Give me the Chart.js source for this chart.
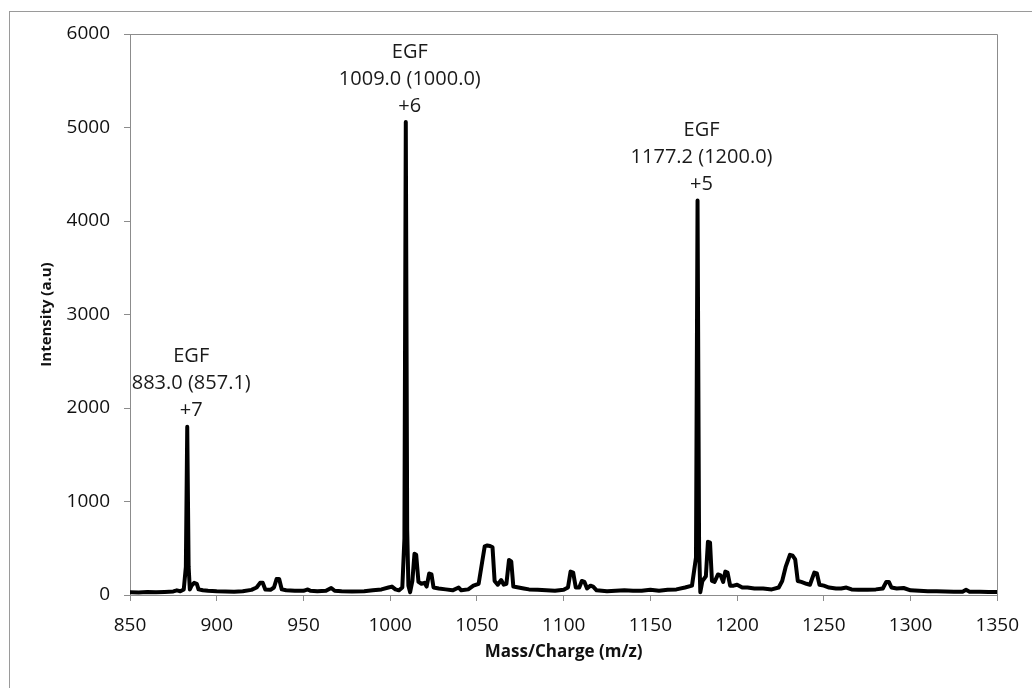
<!DOCTYPE html>
<html>
<head>
<meta charset="utf-8">
<title>EGF mass spectrum</title>
<script src="https://cdn.jsdelivr.net/npm/chart.js@4.4.1/dist/chart.umd.min.js"></script>
<style>
  html, body { margin: 0; padding: 0; background: #fff; overflow: hidden; }
  #wrap { position: relative; width: 1032px; height: 688px; }
</style>
</head>
<body>
<div id="wrap"><canvas id="spectrum" width="1032" height="688"></canvas></div>
<script>
// spectrum trace: m/z and intensity (a.u)
var mz = [
  850, 855, 860, 865, 870, 875, 877, 879, 881, 882.2, 883.0, 883.8, 884.5, 885.5, 887, 888.5, 889.5, 892, 895,
  900, 905, 910, 915, 920, 923, 925, 926.5, 928, 931, 933, 934.5, 936, 937.5, 940, 945, 950, 952.5, 954, 958,
  963, 966, 968, 972, 978, 985, 990, 995, 999, 1001, 1003, 1005, 1007, 1008.2, 1009.0, 1009.8, 1010.5, 1011.5,
  1012.8, 1014.0, 1015.0, 1016.3, 1018, 1019.8, 1021, 1022.5, 1023.8, 1025, 1028, 1032, 1036, 1039.5, 1041,
  1045, 1048, 1051, 1053, 1054.5, 1056, 1057.5, 1059, 1060.2, 1062, 1064, 1065.5, 1067, 1068.5, 1069.8, 1071,
  1074, 1077, 1080, 1085, 1090, 1095, 1100, 1102.5, 1104, 1105.5, 1107, 1109, 1110.5, 1112, 1113.5, 1115.5,
  1117, 1119, 1125, 1130, 1135, 1140, 1145, 1150, 1155, 1160, 1165, 1170, 1174, 1176.3, 1177.2, 1178.1, 1178.8,
  1180, 1182, 1183.2, 1184.4, 1185.5, 1187, 1189, 1190.5, 1192, 1193.2, 1194.5, 1196, 1198, 1200, 1203, 1206,
  1210, 1215, 1220, 1224, 1226, 1228, 1230.5, 1232, 1233.5, 1235, 1237, 1240, 1242, 1244.5, 1246, 1247.5, 1250,
  1253, 1257, 1260, 1263, 1266, 1270, 1275, 1280, 1284, 1286, 1287.5, 1289, 1292, 1296, 1300, 1305, 1310, 1315,
  1320, 1325, 1330, 1332, 1334, 1340, 1345, 1350
];
var intensity = [
  30, 28, 32, 30, 33, 38, 50, 40, 60, 300, 1800, 300, 60, 100, 130, 120, 60, 50, 45,
  40, 38, 35, 40, 55, 80, 130, 130, 60, 55, 80, 170, 170, 60, 50, 45, 45, 60, 45, 40,
  45, 75, 45, 40, 38, 40, 50, 60, 80, 90, 60, 50, 80, 600, 5060, 700, 100, 30,
  150, 440, 430, 140, 120, 130, 90, 230, 220, 80, 70, 60, 50, 80, 50,
  60, 100, 120, 350, 520, 530, 525, 510, 150, 110, 160, 110, 120, 375, 360, 90,
  80, 70, 60, 55, 50, 45, 55, 80, 250, 240, 80, 80, 150, 140, 70, 100,
  90, 50, 40, 45, 50, 45, 45, 55, 45, 55, 60, 80, 100, 400, 4220, 500, 30,
  150, 200, 570, 560, 150, 140, 220, 210, 140, 250, 240, 100, 100, 110, 80, 80,
  70, 70, 60, 80, 150, 300, 430, 420, 380, 150, 140, 120, 110, 240, 230, 110, 100,
  80, 70, 70, 80, 60, 55, 55, 60, 70, 140, 140, 80, 70, 75, 50, 45, 40, 40,
  38, 35, 35, 55, 35, 35, 33, 32
];

// labelled EGF charge states
var peakName = ['EGF', 'EGF', 'EGF'];
var peakMz = [883.0, 1009.0, 1177.2];
var peakTheory = [857.1, 1000.0, 1200.0];
var peakCharge = ['+7', '+6', '+5'];

// axis ticks
var xTicks = [850, 900, 950, 1000, 1050, 1100, 1150, 1200, 1250, 1300, 1350];
var yTicks = [0, 1000, 2000, 3000, 4000, 5000, 6000];

var axisGray = '#8c8c8c';
var tickFont = { family: '"Open Sans", sans-serif', size: 19 };

// outer frame and the box round the plot area
var frame = {
  id: 'frame',
  beforeDraw: function (chart) {
    var ctx = chart.ctx;
    ctx.save();
    ctx.fillStyle = '#fff';
    ctx.fillRect(0, 0, chart.width, chart.height);
    ctx.strokeStyle = '#9a9a9a';
    ctx.lineWidth = 1;
    ctx.strokeRect(9.5, 11.5, 1200, 800);
    ctx.restore();
  },
  afterDraw: function (chart) {
    var a = chart.chartArea, ctx = chart.ctx;
    ctx.save();
    ctx.strokeStyle = axisGray;
    ctx.lineWidth = 1;
    ctx.beginPath();
    ctx.moveTo(Math.round(a.left) + 0.5, Math.round(a.top) + 0.5);
    ctx.lineTo(Math.round(a.right) + 0.5, Math.round(a.top) + 0.5);
    ctx.lineTo(Math.round(a.right) + 0.5, Math.round(a.bottom) + 0.5);
    ctx.stroke();
    ctx.restore();
  }
};

// three-line labels above each EGF peak
var peakLabels = {
  id: 'peakLabels',
  afterDatasetsDraw: function (chart) {
    var ctx = chart.ctx, xs = chart.scales.x, ys = chart.scales.y;
    ctx.save();
    ctx.font = '20px "Open Sans", sans-serif';
    ctx.fillStyle = '#1a1a1a';
    ctx.textAlign = 'center';
    ctx.textBaseline = 'middle';
    peakMz.forEach(function (m, i) {
      var top = intensity[mz.indexOf(m)];
      var px = xs.getPixelForValue(m) + 4;
      var py = ys.getPixelForValue(top) - 16;
      ctx.fillText(peakCharge[i], px, py);
      ctx.fillText(m.toFixed(1) + ' (' + peakTheory[i].toFixed(1) + ')', px, py - 27);
      ctx.fillText(peakName[i], px, py - 54);
    });
    ctx.restore();
  }
};

function plainTick(v) { return String(v); }

var spectrumChart = new Chart(document.getElementById('spectrum'), {
  type: 'line',
  data: {
    datasets: [{
      label: 'EGF',
      data: mz.map(function (m, i) { return { x: m, y: intensity[i] }; }),
      borderColor: '#000',
      borderWidth: 4,
      borderJoinStyle: 'round',
      borderCapStyle: 'round',
      pointRadius: 0,
      tension: 0,
      fill: false
    }]
  },
  options: {
    responsive: false,
    animation: false,
    layout: { padding: { left: 0, top: 34, right: 34, bottom: 0 } },
    plugins: {
      legend: { display: false },
      tooltip: { enabled: false }
    },
    scales: {
      x: {
        type: 'linear',
        min: 850,
        max: 1350,
        afterBuildTicks: function (scale) {
          scale.ticks = xTicks.map(function (v) { return { value: v }; });
        },
        afterFit: function (scale) { scale.height = 93; },
        grid: {
          drawOnChartArea: false,
          drawTicks: true,
          tickLength: 6,
          color: axisGray
        },
        border: { color: axisGray },
        ticks: {
          font: tickFont,
          color: '#111',
          padding: 13,
          maxRotation: 0,
          autoSkip: false,
          callback: plainTick
        },
        title: {
          display: true,
          text: 'Mass/Charge (m/z)',
          font: { family: '"Open Sans", sans-serif', size: 17, weight: 'bold' },
          color: '#111',
          padding: { top: 0, bottom: 26 }
        }
      },
      y: {
        min: 0,
        max: 6000,
        afterBuildTicks: function (scale) {
          scale.ticks = yTicks.map(function (v) { return { value: v }; });
        },
        afterFit: function (scale) { scale.width = 130; },
        grid: {
          drawOnChartArea: false,
          drawTicks: true,
          tickLength: 6,
          color: axisGray
        },
        border: { color: axisGray },
        ticks: {
          font: tickFont,
          color: '#111',
          padding: 14,
          autoSkip: false,
          callback: plainTick
        },
        title: {
          display: true,
          text: 'Intensity (a.u)',
          font: { family: '"Open Sans", sans-serif', size: 15, weight: 'bold' },
          color: '#111',
          padding: { top: 38, bottom: 0 }
        }
      }
    }
  },
  plugins: [frame, peakLabels]
});
</script>
</body>
</html>
